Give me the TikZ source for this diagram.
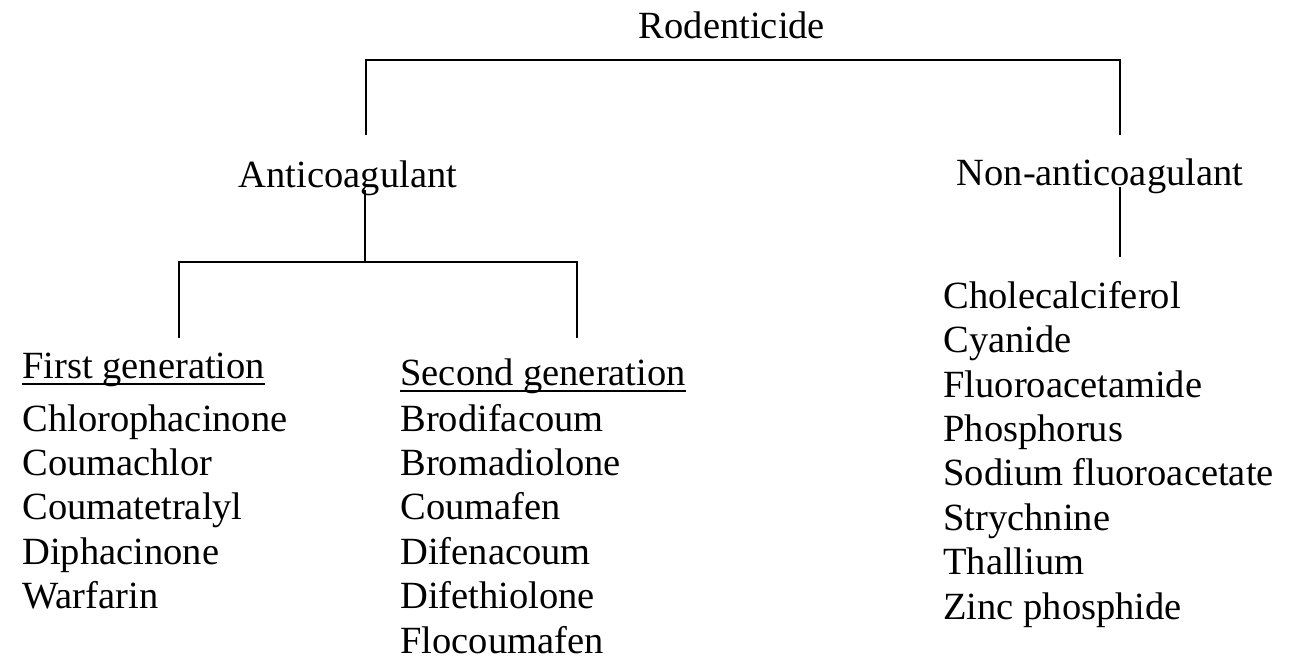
\documentclass[tikz,border=0pt]{standalone}
\usepackage{fontspec}
\setmainfont{Liberation Serif}
\usetikzlibrary{positioning,calc}
% underline placed close to the baseline
\newcommand{\genhead}[1]{{\setbox0\hbox{#1}\rlap{\rule[-3.3pt]{\wd0}{1pt}}\box0}}

\begin{document}
\begin{tikzpicture}[
  x=0.5pt, y=-0.5pt,
  term/.style={font=\rmfamily\fontsize{19.25}{22.2}\selectfont, inner sep=0pt, anchor=base},
  namelist/.style={term, align=left, anchor=base west},
  branch/.style={line width=1pt, color=black}
]
\useasboundingbox[fill=white] (0,0) rectangle (1293,660);

\node[term] (root) at (732,38) {Rodenticide};

\node[term] (anti) at (348,187) {Anticoagulant};
\node[term] (non) at (1100,185) {Non-anticoagulant};

\node[namelist] (gen1head) at (22,378) {\genhead{First generation}};
\node[namelist] (gen1) at (22,608.6) {Chlorophacinone\\Coumachlor\\Coumatetralyl\\Diphacinone\\Warfarin};

\node[namelist] (gen2head) at (400,385) {\genhead{Second generation}};
\node[namelist] (gen2) at (400,653) {Brodifacoum\\Bromadiolone\\Coumafen\\Difenacoum\\Difethiolone\\Flocoumafen};

\node[namelist] (nonlist) at (943,619) {Cholecalciferol\\Cyanide\\Fluoroacetamide\\Phosphorus\\Sodium fluoroacetate\\Strychnine\\Thallium\\Zinc phosphide};

\draw[branch, line width=1.3pt] ($(anti.base)+(18,-52)$) |- ($(root.base)+(0,22)$) -| ($(non.base)+(20,-50)$);

\coordinate (fork) at ($(anti.base)+(17,75)$);
\draw[branch] ($(anti.base)+(17,3)$) -- (fork);
\draw[branch] ($(gen1head.base west)+(157,-40)$) |- (fork) -| ($(gen2head.base west)+(177,-47)$);

\draw[branch] ($(non.base)+(20,2)$) -- ($(nonlist.north west)+(177,-24)$);
\end{tikzpicture}
\end{document}
